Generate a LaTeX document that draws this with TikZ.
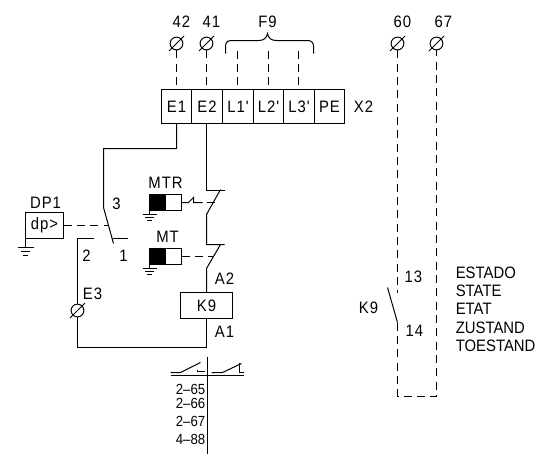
\documentclass[tikz,border=0pt]{standalone}
\usepackage{fontspec}
\setmainfont[FakeStretch=0.9]{Liberation Sans}
\newfontfamily\spacedfont[FakeStretch=0.9,LetterSpace=6]{Liberation Sans}
\tikzset{
  ln/.style={line width=0.75pt,black},
  dsh/.style={ln,dash pattern=on 6pt off 4pt},
  txt/.style={inner sep=0pt,font=\spacedfont\fontsize{12.4}{12.4}\selectfont,text=black},
  lbl/.style={inner sep=0pt,font=\fontsize{12.4}{12.4}\selectfont,text=black,anchor=west},
  ref/.style={inner sep=0pt,font=\fontsize{11}{11}\selectfont,text=black,anchor=east},
  term/.style={circle,draw,ln,minimum size=9.6pt,inner sep=0pt},
  cell/.style={draw,ln,txt,minimum height=25.5pt,outer sep=0pt},
  act/.style={draw,ln,inner sep=0pt,minimum height=12pt,minimum width=12pt,outer sep=0pt},
  relay/.style={draw,ln,txt,minimum height=19.5pt,outer sep=0pt}
}
\newcommand{\slashterm}[3]{%
  \node[term] (#1) at (#2,#3) {};
  \draw[ln] ([shift={(-7.5,7.5)}]#1.center) -- ([shift={(7.5,-7.5)}]#1.center);
}
\newcommand{\gnd}[4]{%
  \draw[ln] (#1-#3,#2) -- (#1+#3,#2);
  \draw[ln] (#1-#3*0.6,#2+#4) -- (#1+#3*0.6,#2+#4);
  \draw[ln] (#1-#3*0.3,#2+2*#4) -- (#1+#3*0.3,#2+2*#4);
}
\begin{document}
\begin{tikzpicture}[x=0.75pt,y=-0.75pt,shift={(0.5,0.5)}]
\useasboundingbox (-0.5,-0.5) rectangle (540.5,453.5);
% terminal strip
\foreach \n/\t/\x/\w in {cE/E1/176/22.5,cF/E2/206.5/23.25,cL/L1'/237.5/23.25,cM/L2'/268/22.5,cN/L3'/298.5/23.25,cP/PE/329/22.5}
  \node[cell,minimum width=\w pt] (\n) at (\x,106) {\t};
\node[txt] (x2) at (363,106) {X2};
% terminals top
\slashterm{t42}{176}{43}
\slashterm{t41}{206}{43}
\slashterm{t60}{397}{43}
\slashterm{t67}{436}{43}
\node[txt] (l42) at (181,21) {42};
\node[txt] (l41) at (211,21) {41};
\node[txt] (lF9) at (267,21) {F9};
\node[txt] (l60) at (402,21) {60};
\node[txt] (l67) at (443,21) {67};
\draw[dsh] (t42) -- (t42 |- cE.north);
\draw[dsh] (t41) -- (t41 |- cF.north);
\coordinate (fa) at (237,50);
\coordinate (fb) at (268,50);
\coordinate (fc) at (298,50);
\draw[dsh] (fa) -- (fa |- cL.north);
\draw[dsh] (fb) -- (fb |- cM.north);
\draw[dsh] (fc) -- (fc |- cN.north);
% brace
\draw[ln] (225,53) -- (225,46) .. controls (225,42) and (227,40) .. (231,40) -- (258,40)
  .. controls (263,40) and (266,38) .. (267,33) .. controls (268,38) and (271,40) .. (276,40)
  -- (307,40) .. controls (311,40) and (313,42) .. (313,46) -- (313,53);
% left rail and changeover contact
\coordinate (s3) at (103,207);
\coordinate (sb) at (113,243);
\coordinate (s1a) at (112,238);
\coordinate (s1b) at (127,238);
\coordinate (s2a) at (93,238);
\coordinate (s2b) at (77,238);
\draw[ln] (cE.south) -- (176,148) -- (103,148) -- (s3) -- (sb);
\draw[ln] (s1a) -- (s1b);
\slashterm{tE3}{77}{310}
\node[relay,minimum width=39pt] (K9) at (206,305) {K9};
\draw[ln] (s2a) -- (s2b) -- (tE3);
\draw[ln] (tE3) -- (77,347) -- (206,347) -- (K9.south);
\node[txt] (n3) at (116,203) {3};
\node[txt] (n2) at (86,255) {2};
\node[txt] (n1) at (123,255) {1};
\node[txt] (nE3) at (92,293) {E3};
\node[txt] (nA2) at (224,278) {A2};
\node[txt] (nA1) at (224,331) {A1};
% DP1
\node[relay,minimum width=28.5pt] (dp) at (44,225) {dp>};
\node[txt] (ndp) at (45,202) {DP1};
\coordinate (dpg) at (25,247);
\draw[ln] (dp.south west) -- (dpg);
\gnd{25}{247}{8}{4}
\coordinate (sm) at (107,225);
\draw[dsh] (dp.east) -- (sm);
% series contacts
\coordinate (m1) at (206,190);
\coordinate (m2) at (220,189);
\coordinate (m3) at (206,214);
\coordinate (m4) at (206,244);
\coordinate (m5) at (220,244);
\coordinate (m6) at (206,268);
\draw[ln] (m1 |- cF.south) -- (m1) -- (224,190);
\draw[ln] (m2) -- (m3) -- (m4) -- (224,244);
\draw[ln] (m5) -- (m6) -- (K9.north);
% MTR
\node[act,fill=black] (mtrb) at (157,202) {};
\node[act] (mtrw) at (173,202) {};
\node[txt] (nMTR) at (165,182) {MTR};
\draw[ln] (mtrw.east) -- (188,202) -- (193,197) -- (193,202) -- (202,202);
\coordinate (mtrd) at (206,202);
\coordinate (mtre) at (214,202);
\draw[ln] (mtrd) -- (mtre);
\draw[ln] (149,210) -- (149,214);
\gnd{149}{214}{7}{3}
% MT
\node[act,fill=black] (mtb) at (157,256) {};
\node[act] (mtw) at (173,256) {};
\node[txt] (nMT) at (167,236) {MT};
\coordinate (mte) at (213,256);
\draw[dsh] (mtw.east) -- (mte);
\draw[ln] (149,264) -- (149,268);
\gnd{149}{268}{7}{3}
% contact table
\coordinate (vt) at (207,356);
\coordinate (vb) at (207,453);
\draw[ln] (vt) -- (vb);
\draw[ln] (170,375) -- (243,375);
\draw[ln] (170,372) -- (180,372) -- (200,362);
\draw[ln] (197,369) -- (197,371) -- (204,371);
\draw[ln] (211,372) -- (222,372) -- (241,363);
\draw[ln] (239,362) -- (239,372) -- (243,372);
\node[ref] (r1) at (205,389) {2–65};
\node[ref] (r2) at (205,403) {2–66};
\node[ref] (r3) at (205,421) {2–67};
\node[ref] (r4) at (205,439) {4–88};
% right circuit
\coordinate (c1) at (397,292);
\coordinate (c2) at (387,287);
\coordinate (c3) at (397,322);
\coordinate (c4) at (397,396);
\coordinate (c5) at (436,396);
\draw[dsh] (t60) -- (c1);
\draw[ln] (c2) -- (c3);
\draw[dsh] (c3) -- (c4) -- (c5) -- (t67);
\node[txt] (nK9) at (368,307) {K9};
\node[txt] (n13) at (413,276) {13};
\node[txt] (n14) at (414,330) {14};
\node[lbl] (e1) at (455,272) {ESTADO};
\node[lbl] (e2) at (455,290.5) {STATE};
\node[lbl] (e3) at (455,308) {ETAT};
\node[lbl] (e4) at (455,327) {ZUSTAND};
\node[lbl] (e5) at (455,345) {TOESTAND};
\end{tikzpicture}
\end{document}
